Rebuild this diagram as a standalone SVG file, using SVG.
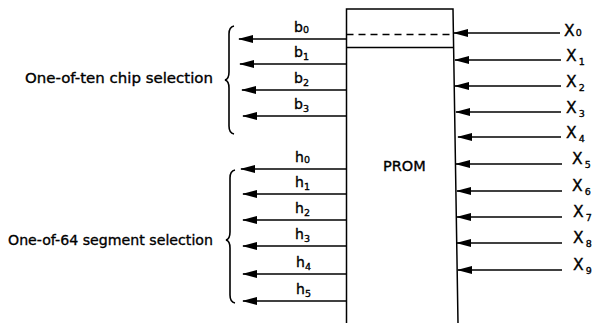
<svg xmlns="http://www.w3.org/2000/svg" width="593" height="323" viewBox="0 0 593 323">
<defs>
<marker id="ah" markerUnits="userSpaceOnUse" viewBox="0 0 15 8" refX="14" refY="4" markerWidth="15" markerHeight="8" orient="auto">
<path d="M0,0 L15,4 L0,8 Z" fill="#000"/>
</marker>
</defs>
<style>
.ln{stroke:#000;stroke-width:1.5;fill:none}
.ar{stroke:#000;stroke-width:1.5;fill:none;marker-end:url(#ah)}
.br{stroke:#000;stroke-width:1.6;fill:none}
text{font-family:"DejaVu Sans","Liberation Sans",sans-serif;fill:#000;stroke:#000;stroke-width:0.35}
.lb{font-size:14px}
.sb{font-size:9.5px}
.xl{font-size:15.5px}
.big{font-size:14.5px}
</style>
<rect width="593" height="323" fill="#fff"/>
<g id="prom">
<path class="ln" d="M346.5,323 L346.5,9 L453,9 L458,323"/>
<line class="ln" x1="346.5" y1="47.5" x2="453.5" y2="47.5"/>
<line class="ln" x1="346.5" y1="34.5" x2="453.5" y2="34.5" stroke-dasharray="7,5"/>
<text x="383" y="171" style="font-size:14.5px">PROM</text>
</g>
<g id="connectors">
<line class="ar" x1="346.5" y1="39" x2="239" y2="39"/>
<line class="ar" x1="346.5" y1="64" x2="240" y2="64"/>
<line class="ar" x1="346.5" y1="90" x2="242" y2="90"/>
<line class="ar" x1="346.5" y1="116" x2="243" y2="116"/>
<line class="ar" x1="347" y1="169" x2="241" y2="169"/>
<line class="ar" x1="347" y1="194" x2="243" y2="194"/>
<line class="ar" x1="347" y1="220" x2="243" y2="220"/>
<line class="ar" x1="347" y1="246" x2="243" y2="246"/>
<line class="ar" x1="347" y1="274" x2="243" y2="274"/>
<line class="ar" x1="347" y1="301" x2="243" y2="301"/>
<line class="ar" x1="560" y1="33" x2="454" y2="33"/>
<line class="ar" x1="561" y1="60" x2="455" y2="60"/>
<line class="ar" x1="561" y1="86" x2="455" y2="86"/>
<line class="ar" x1="561" y1="112" x2="456" y2="112"/>
<line class="ar" x1="561" y1="137" x2="458" y2="137"/>
<line class="ar" x1="562" y1="164" x2="456" y2="164"/>
<line class="ar" x1="562" y1="191" x2="457" y2="191"/>
<line class="ar" x1="562" y1="217" x2="457" y2="217"/>
<line class="ar" x1="562" y1="243" x2="457" y2="243"/>
<line class="ar" x1="562" y1="270" x2="458" y2="270"/>
</g>
<g id="b-labels">
<text class="lb" x="294" y="32">b<tspan class="sb" dy="1">0</tspan></text>
<text class="lb" x="294" y="57">b<tspan class="sb" dy="3">1</tspan></text>
<text class="lb" x="294" y="83">b<tspan class="sb" dy="3">2</tspan></text>
<text class="lb" x="294" y="109">b<tspan class="sb" dy="3">3</tspan></text>
</g>
<g id="h-labels">
<text class="lb" x="295" y="162">h<tspan class="sb" dy="1">0</tspan></text>
<text class="lb" x="295" y="187">h<tspan class="sb" dy="3">1</tspan></text>
<text class="lb" x="295" y="213">h<tspan class="sb" dy="3">2</tspan></text>
<text class="lb" x="295" y="239">h<tspan class="sb" dy="3">3</tspan></text>
<text class="lb" x="296" y="267">h<tspan class="sb" dy="3">4</tspan></text>
<text class="lb" x="296" y="294">h<tspan class="sb" dy="3">5</tspan></text>
</g>
<g id="x-labels">
<text class="xl" x="564" y="36">X<tspan class="sb" dx="1" dy="0">0</tspan></text>
<text class="xl" x="566" y="61">X<tspan class="sb" dx="2" dy="4">1</tspan></text>
<text class="xl" x="566" y="87">X<tspan class="sb" dx="2" dy="4">2</tspan></text>
<text class="xl" x="566" y="113">X<tspan class="sb" dx="2" dy="4">3</tspan></text>
<text class="xl" x="566" y="138">X<tspan class="sb" dx="2" dy="4">4</tspan></text>
<text class="xl" x="572" y="164">X<tspan class="sb" dx="2" dy="4">5</tspan></text>
<text class="xl" x="572" y="191">X<tspan class="sb" dx="2" dy="4">6</tspan></text>
<text class="xl" x="573" y="217">X<tspan class="sb" dx="2" dy="4">7</tspan></text>
<text class="xl" x="573" y="243">X<tspan class="sb" dx="2" dy="4">8</tspan></text>
<text class="xl" x="573" y="270">X<tspan class="sb" dx="2" dy="4">9</tspan></text>
</g>
<g id="chip-selection">
<path class="br" d="M234,26 Q229,27 229,34 L229,72 Q229,79 225,80 Q229,81 229,88 L229,126 Q229,133 234,134"/>
<text class="big" x="25" y="83" textLength="188" lengthAdjust="spacingAndGlyphs">One-of-ten chip selection</text>
</g>
<g id="segment-selection">
<path class="br" d="M235,170 Q230,171 230,178 L230,232 Q230,239 226,240 Q230,241 230,248 L230,295 Q230,302 235,303"/>
<text class="big" x="8" y="245" textLength="205" lengthAdjust="spacingAndGlyphs">One-of-64 segment selection</text>
</g>
</svg>
